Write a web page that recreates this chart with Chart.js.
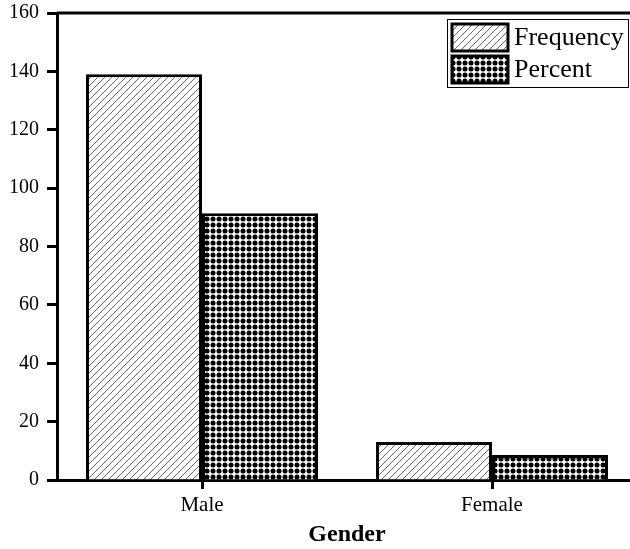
<!DOCTYPE html>
<html>
<head>
<meta charset="utf-8">
<script src="https://cdn.jsdelivr.net/npm/chart.js@4"></script>
<style>
  html, body { margin: 0; padding: 0; background: #fff; overflow: hidden; }
</style>
</head>
<body>
<canvas id="chart" width="645" height="549"></canvas>
<script>
// data
const categories = ['Male', 'Female'];
const frequency = [139, 13];
const percent = [91.4, 8.6];
const seriesNames = ['Frequency', 'Percent'];
const axisTitle = 'Gender';
const yMin = 0, yMax = 160, yStep = 20;

Chart.defaults.font.family = '"Liberation Serif", "Times New Roman", serif';
Chart.defaults.color = '#000';

// diagonal hatch for Frequency
function hatchPattern() {
  const c = document.createElement('canvas');
  c.width = c.height = 7;
  const g = c.getContext('2d');
  g.fillStyle = '#fff';
  g.fillRect(0, 0, 7, 7);
  g.strokeStyle = '#666';
  g.lineWidth = 1;
  g.beginPath();
  g.moveTo(-1, 8); g.lineTo(8, -1);
  g.moveTo(-1, 1); g.lineTo(1, -1);
  g.moveTo(6, 8); g.lineTo(8, 6);
  g.stroke();
  return g.createPattern(c, 'repeat');
}

// dot grid for Percent
function dotPattern() {
  const c = document.createElement('canvas');
  c.width = c.height = 6;
  const g = c.getContext('2d');
  g.fillStyle = '#fff';
  g.fillRect(0, 0, 6, 6);
  g.fillStyle = '#000';
  g.beginPath();
  g.arc(3, 3, 2.5, 0, Math.PI * 2);
  g.fill();
  return g.createPattern(c, 'repeat');
}

// top/right frame of the plot box
const framePlugin = {
  id: 'frame',
  afterDraw(chart) {
    const { ctx, chartArea: a } = chart;
    ctx.save();
    ctx.strokeStyle = '#000';
    ctx.lineWidth = 3;
    ctx.beginPath();
    ctx.moveTo(a.left, a.top);
    ctx.lineTo(a.right, a.top);
    ctx.lineTo(a.right, a.bottom);
    ctx.stroke();
    ctx.restore();
  }
};

// boxed legend in the upper right corner
const boxLegend = {
  id: 'boxLegend',
  afterDraw(chart) {
    const { ctx, chartArea: a } = chart;
    const x0 = a.right - 190, y0 = a.top + 6;
    ctx.save();
    ctx.fillStyle = '#fff';
    ctx.fillRect(x0, y0, 181, 68);
    ctx.strokeStyle = '#000';
    ctx.lineWidth = 1;
    ctx.strokeRect(x0 + 0.5, y0 + 0.5, 181, 68);
    chart.data.datasets.forEach((ds, i) => {
      const sy = y0 + 5 + i * 32;
      ctx.fillStyle = ds.backgroundColor;
      ctx.fillRect(x0 + 5, sy, 56, 27);
      ctx.lineWidth = 3;
      ctx.strokeRect(x0 + 5, sy, 56, 27);
      ctx.fillStyle = '#000';
      ctx.font = '26px "Liberation Serif"';
      ctx.textBaseline = 'middle';
      ctx.fillText(ds.label, x0 + 67, sy + 14);
    });
    ctx.restore();
  }
};

new Chart(document.getElementById('chart'), {
  type: 'bar',
  data: {
    labels: categories,
    datasets: [
      {
        label: seriesNames[0],
        data: frequency,
        backgroundColor: hatchPattern(),
        borderColor: '#000',
        borderWidth: 3,
        categoryPercentage: 0.8,
        barPercentage: 1.0
      },
      {
        label: seriesNames[1],
        data: percent,
        backgroundColor: dotPattern(),
        borderColor: '#000',
        borderWidth: 3,
        categoryPercentage: 0.8,
        barPercentage: 1.0
      }
    ]
  },
  options: {
    responsive: false,
    animation: false,
    layout: { padding: { top: 13, right: 8, left: 0, bottom: 0 } },
    plugins: {
      legend: { display: false },
      tooltip: { enabled: false }
    },
    scales: {
      x: {
        grid: { offset: false, drawOnChartArea: false, tickLength: 9, tickWidth: 3, tickColor: '#000' },
        border: { color: '#000', width: 3 },
        ticks: { font: { size: 21 }, padding: 4, color: '#000' },
        title: { display: true, text: axisTitle, font: { size: 24, weight: 'bold' }, padding: 0, color: '#000' },
        afterFit: s => { s.height = 69; }
      },
      y: {
        min: yMin,
        max: yMax,
        ticks: { stepSize: yStep, font: { size: 20 }, padding: 8, color: '#000' },
        grid: { drawOnChartArea: false, tickLength: 10, tickWidth: 3, tickColor: '#000' },
        border: { color: '#000', width: 3 },
        afterFit: s => { s.width = 57; s.paddingTop = 0; s.paddingBottom = 0; }
      }
    }
  },
  plugins: [framePlugin, boxLegend]
});
</script>
</body>
</html>
